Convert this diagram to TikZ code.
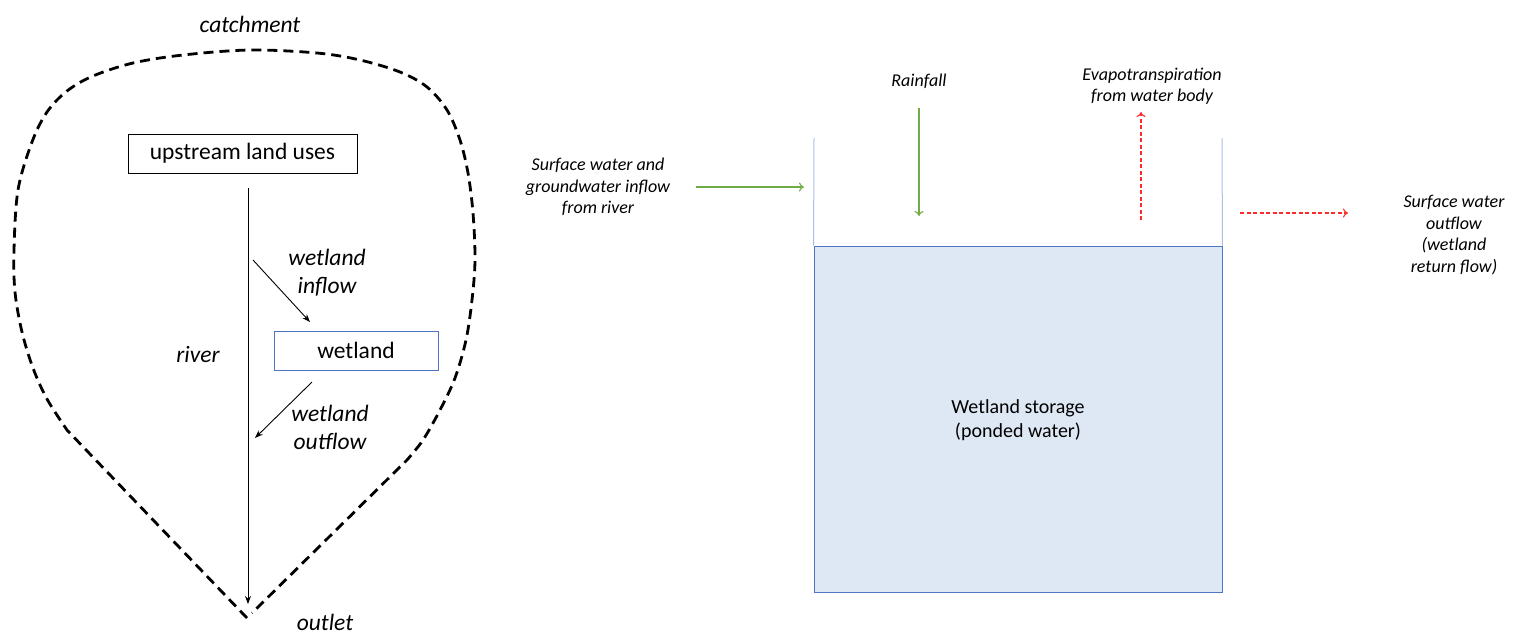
\documentclass[tikz,border=0pt]{standalone}
\usepackage{fontspec}
\setmainfont{Carlito}
\usetikzlibrary{arrows.meta}
\definecolor{flowgreen}{HTML}{70AD47}
\definecolor{wallblue}{HTML}{A9BEE6}
\definecolor{edgeblue}{HTML}{4F75C4}
\definecolor{pondfill}{HTML}{DEE8F5}
\definecolor{lossred}{HTML}{FF2A2A}
\tikzset{
  bigtext/.style={font=\fontsize{23.5}{28}\selectfont, align=center, inner sep=0pt},
  bigit/.style={bigtext, font=\fontsize{23.5}{28}\selectfont\itshape},
  smallit/.style={font=\fontsize{18}{21.5}\selectfont\itshape, align=center, inner sep=0pt},
  boundary/.style={line width=2.8pt, dash pattern=on 10pt off 6pt},
  flowline/.style={line width=0.9pt, -{Stealth[length=8pt,width=6pt]}},
  greenflow/.style={draw=flowgreen, line width=1.1pt, -{To[length=5pt,width=9pt]}},
  redflow/.style={draw=lossred, line width=1.1pt, dash pattern=on 4pt off 2.5pt, -{To[length=5pt,width=9pt]}},
}
\begin{document}
\begin{tikzpicture}[x=1pt,y=-1pt]
\useasboundingbox (0,0) rectangle (1518,633);

% ---------- catchment scheme ----------
\draw[boundary] (247,618) -- (67,430)
  -- plot[smooth, tension=0.55] coordinates {
     (67,430) (47,399) (33,368) (22,332) (15,292) (14,250) (18,190)
     (32,142) (47,112) (67,91) (93,76) (133,63) (183,55) (250,50)
     (317,53) (360,60) (400,72) (427,87) (447,110) (460,140) (468,173)
     (473,213) (475,260) (472,300) (466,340) (455,378) (440,410)
     (423,440) (407,460)}
  -- (252,613);

\node[bigit] (catch) at (250,24) {catchment};
\node[bigtext, draw, line width=0.9pt, minimum width=229pt, minimum height=39pt] (up) at (242.5,153.5) {upstream land uses};
\node[bigtext, draw=edgeblue, line width=0.9pt, minimum width=164pt, minimum height=39pt] (wet) at (356,350.5) {wetland};
\node[bigit] (river) at (198,354) {river};
\node[bigit] (inlab) at (327,273) {wetland\\inflow};
\node[bigit] (outlab) at (330,427) {wetland\\outflow};
\node[bigit] (outlet) at (325,622) {outlet};

\coordinate (rtop) at (248,188);
\coordinate (rend) at (248,604);
\coordinate (inA) at (253,260);
\coordinate (inB) at (310,322);
\coordinate (outA) at (312,382);
\coordinate (outB) at (255,438);
\draw[flowline] (rtop) -- (rend);
\draw[flowline] (inA) -- (inB);
\draw[flowline] (outA) -- (outB);

% ---------- wetland water balance ----------
\node[draw=edgeblue, fill=pondfill, line width=0.9pt, minimum width=408pt, minimum height=346pt, inner sep=0pt] (pond) at (1018,419) {};
\node[font=\fontsize{20}{24}\selectfont, align=center] (pondlab) at (1018,420) {Wetland storage\\(ponded water)};
\coordinate (lwall) at (814,138);
\coordinate (rwall) at (1222,138);
\draw[wallblue, line width=1pt] (lwall) -- (pond.north west);
\draw[wallblue, line width=1pt] (rwall) -- (pond.north east);

\node[smallit] (inflowlab) at (598,187) {Surface water and\\groundwater inflow\\from river};
\node[smallit] (rainlab) at (919,81) {Rainfall};
\node[smallit] (etlab) at (1152,86) {Evapotranspiration\\from water body};
\node[smallit] (outflowlab) at (1454,235) {Surface water\\outflow\\(wetland\\return flow)};

\coordinate (gA) at (696,187);
\coordinate (gB) at (804,187);
\coordinate (rA) at (919,108);
\coordinate (rB) at (919,216);
\coordinate (eA) at (1141,220);
\coordinate (eB) at (1141,112);
\coordinate (oA) at (1240,213);
\coordinate (oB) at (1348,213);
\draw[greenflow] (gA) -- (gB);
\draw[greenflow] (rA) -- (rB);
\draw[redflow] (eA) -- (eB);
\draw[redflow] (oA) -- (oB);
\end{tikzpicture}
\end{document}
